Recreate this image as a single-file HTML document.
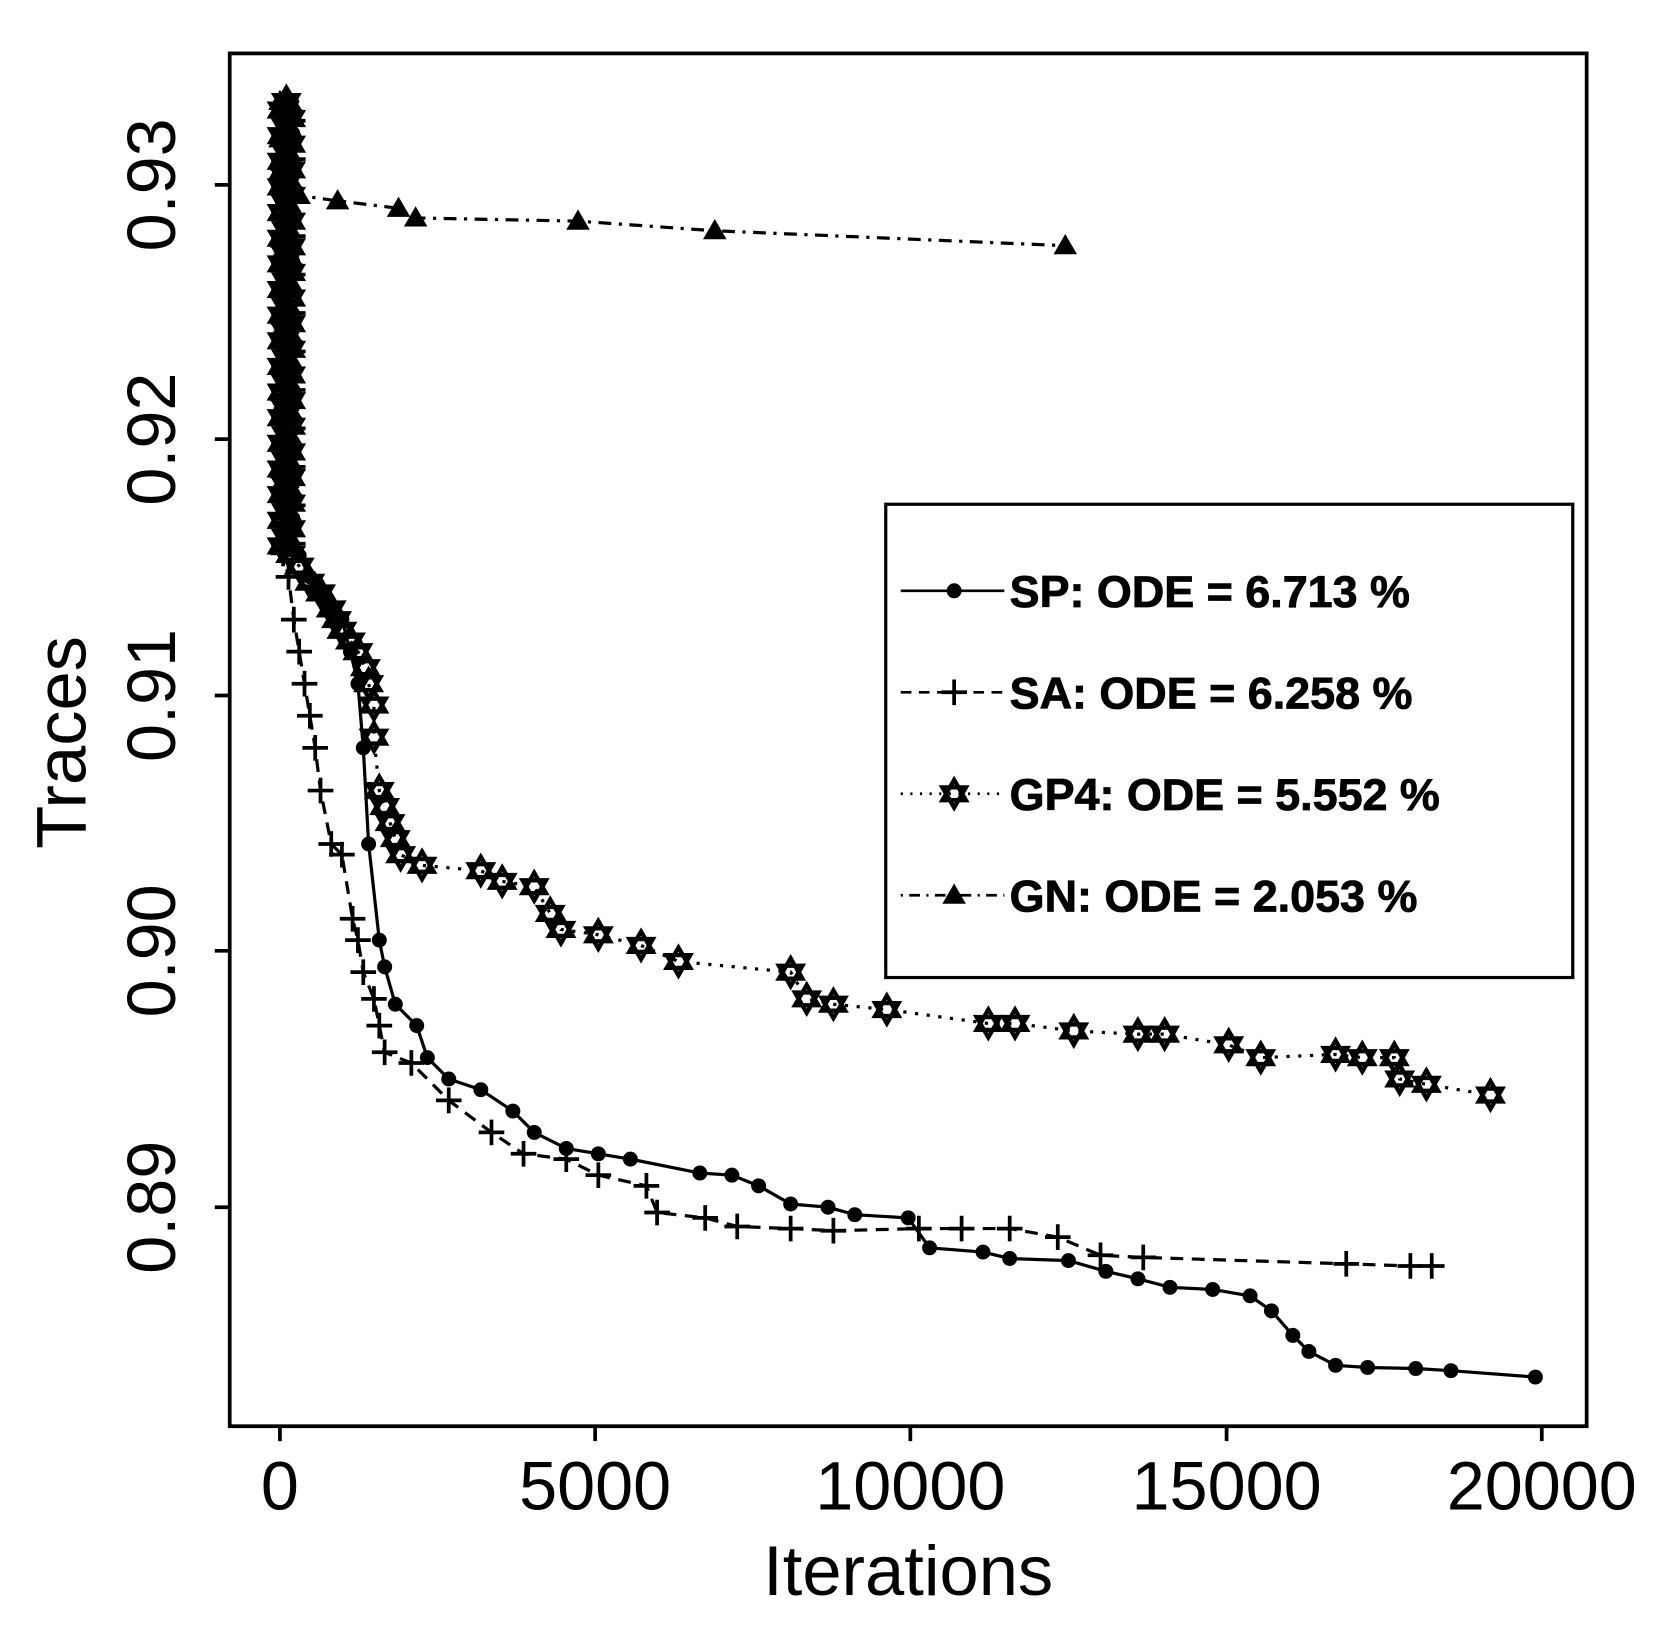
<!DOCTYPE html>
<html><head><meta charset="utf-8"><style>html,body{margin:0;padding:0;background:#fff}svg{display:block}</style></head>
<body>
<svg id="s" width="1670" height="1626" viewBox="0 0 1563 1522" preserveAspectRatio="none" xmlns="http://www.w3.org/2000/svg" font-family="Liberation Sans, Arial, sans-serif">
<rect width="1563" height="1522" fill="#fff"/>
<g fill="none" stroke="#000" stroke-width="3.5">
<rect x="215" y="50" width="1270" height="1285"/>
<path d="M262 1335v14M557 1335v14M852 1335v14M1148 1335v14M1443 1335v14"/>
<path d="M215 173h-14M215 411h-14M215 651h-14M215 890h-14M215 1130h-14"/>
</g>
<g font-size="64" text-anchor="middle">
<text x="262" y="1413">0</text><text x="557" y="1413">5000</text><text x="852" y="1413">10000</text><text x="1148" y="1413">15000</text><text x="1443" y="1413">20000</text>
<text transform="translate(164 173) rotate(-90)">0.93</text>
<text transform="translate(164 411) rotate(-90)">0.92</text>
<text transform="translate(164 651) rotate(-90)">0.91</text>
<text transform="translate(164 890) rotate(-90)">0.90</text>
<text transform="translate(164 1130) rotate(-90)">0.89</text>
<text x="850" y="1493" font-size="66">Iterations</text>
<text transform="translate(80 695) rotate(-90)" font-size="66">Traces</text>
</g>
<g id="data"></g>
<rect x="829" y="472" width="643" height="443" fill="#fff" stroke="#000" stroke-width="3"/>
<g stroke="#000" stroke-width="2.5" fill="none">
<path d="M843 553h97"/>
<path d="M843 648h97" stroke-dasharray="10 7"/>
<path d="M843 743h97" stroke-dasharray="2 7"/>
<path d="M843 838h97" stroke-dasharray="2 6 10 6"/>
</g>
<g id="leg"></g>
<g font-size="42" font-weight="bold" stroke="#000" stroke-width="0.8">
<text x="945" y="568">SP: ODE = 6.713 %</text>
<text x="945" y="663">SA: ODE = 6.258 %</text>
<text x="945" y="758">GP4: ODE = 5.552 %</text>
<text x="945" y="853">GN: ODE = 2.053 %</text>
</g>
</svg>
<script>
var NS="http://www.w3.org/2000/svg",D=document.getElementById("data"),L=document.getElementById("leg");
function el(p,t,a){var e=document.createElementNS(NS,t);for(var k in a)e.setAttribute(k,a[k]);p.appendChild(e);return e;}
function mk(p,type,x,y){
 if(type=="dot")el(p,"circle",{cx:x,cy:y,r:7,fill:"#000"});
 else if(type=="tri")el(p,"path",{d:"M"+x+" "+(y-11)+"l11 19h-22z",fill:"#000"});
 else if(type=="plus")el(p,"path",{d:"M"+(x-12)+" "+y+"h24M"+x+" "+(y-12)+"v24",stroke:"#000","stroke-width":3.5,fill:"none"});
 else if(type=="star")el(p,"path",{d:"M"+x+" "+(y-13)+"l11 19h-22zM"+x+" "+(y+13)+"l11 -19h-22z",stroke:"#000","stroke-width":4,fill:"none"});
}
function col(y0,y1,step){var a=[];for(var y=y0;y<=y1;y+=step)a.push([263+((y*7)%12),y]);return a;}
var GN=[[262,95],[262,130],[262,160],[267,185],[280,183],[316,188],[373,195],[389,204],[541,207],[669,216],[997,230]];
var GP=col(95,520,8).concat([[280,530],[290,545],[300,555],[310,570],[315,580],[320,590],[328,600],[335,610],[342,625],[345,640],[350,660],[350,690],[355,740],[360,755],[365,770],[370,785],[375,800],[395,810],[450,815],[470,825],[500,830],[515,855],[525,870],[560,875],[600,885],[635,900],[740,910],[755,935],[780,940],[830,945],[925,958],[950,958],[1005,965],[1065,968],[1090,968],[1150,978],[1180,990],[1250,987],[1275,990],[1305,990],[1310,1010],[1335,1015],[1395,1025]]);
var SA=col(95,520,9).concat([[270,540],[275,580],[280,610],[285,640],[290,670],[295,700],[300,740],[310,790],[320,800],[330,860],[335,880],[340,910],[350,935],[355,960],[360,985],[385,995],[420,1030],[460,1060],[490,1080],[530,1085],[560,1100],[605,1110],[615,1135],[660,1140],[690,1148],[740,1150],[780,1152],[860,1150],[900,1150],[945,1150],[990,1158],[1030,1175],[1070,1177],[1260,1183],[1320,1185],[1340,1185]]);
var SP=col(95,520,10).concat([[280,520],[290,540],[300,555],[310,568],[320,580],[328,610],[335,640],[340,700],[345,790],[355,880],[360,905],[370,940],[390,960],[400,990],[420,1010],[450,1020],[480,1040],[500,1060],[530,1075],[560,1080],[590,1085],[655,1098],[685,1100],[710,1110],[740,1127],[775,1130],[800,1137],[850,1140],[870,1168],[920,1172],[945,1178],[1000,1180],[1035,1190],[1065,1197],[1095,1205],[1135,1207],[1170,1213],[1190,1227],[1210,1250],[1225,1265],[1250,1278],[1280,1280],[1325,1281],[1358,1283],[1437,1289]]);
function series(pts,type,dash){
 el(D,"polyline",{points:pts.map(function(p){return p.join(",")}).join(" "),fill:"none",stroke:"#000","stroke-width":3,"stroke-dasharray":dash});
 pts.forEach(function(p){mk(D,type,p[0],p[1]);});
}
series(SP,"dot","none");
series(SA,"plus","12 8");
series(GP,"star","3 8");
series(GN,"tri","3 7 12 7");
mk(L,"dot",893,553);mk(L,"plus",893,648);mk(L,"star",893,743);mk(L,"tri",893,838);
</script>
</body></html>
